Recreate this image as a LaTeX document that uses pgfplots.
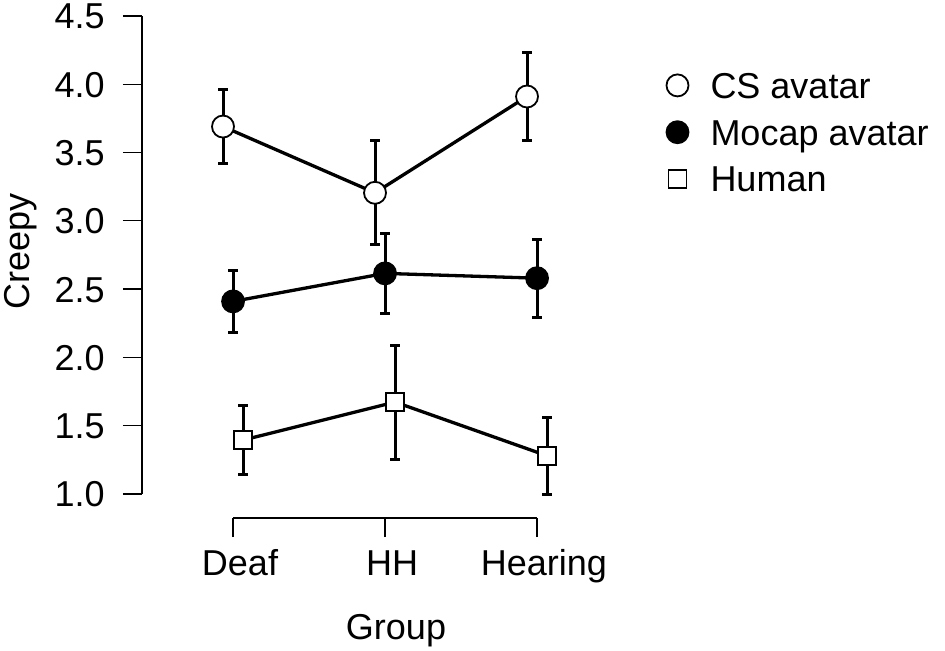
\documentclass[border=0pt]{standalone}
\usepackage{fontspec}
\setmainfont{Liberation Sans}
\usepackage{pgfplots}
\pgfplotsset{compat=1.18}
\usepackage{pgfplotstable}

\pgfplotstableread{
x y
0.934 3.690
1.934 3.205
2.934 3.910
}\cstab
\pgfplotstableread{
x y
1 2.410
2 2.615
3 2.580
}\mocaptab
\pgfplotstableread{
x y
1.066 1.395
2.066 1.673
3.066 1.280
}\humantab

\pgfplotsset{
  errseg/.style={black, line width=1.5pt, mark=-, mark size=2.4pt,
    mark options={solid, line width=1.5pt}, unbounded coords=jump, forget plot},
}

\begin{document}
\begin{tikzpicture}[font=\fontsize{18}{21}\selectfont]
\path[use as bounding box] (0,0) rectangle (472.5pt,325pt);
\begin{axis}[
  at={(71pt,78pt)}, anchor=south west,
  x=76pt, y=68.3pt,
  xmin=0.401, xmax=3.6, ymin=1, ymax=4.5,
  axis x line=none, axis y line=left,
  axis line style={-, line width=0.65pt},
  ytick={1,1.5,2,2.5,3,3.5,4,4.5},
  /pgf/number format/assume math mode=true,
  /pgf/number format/fixed,
  /pgf/number format/fixed zerofill,
  /pgf/number format/precision=1,
  yticklabel style={inner sep=0pt, text height=12.9pt, text depth=0pt, anchor=east, xshift=-9pt},
  tick align=outside, major tick length=9.5pt,
  tick style={line width=0.65pt, black},
  ylabel={Creepy},
  every axis y label/.style={at={([xshift=-62.5pt,yshift=1.75pt]axis description cs:0,0.5)}, rotate=90, anchor=center, inner sep=0pt, text height=12.9pt, text depth=0pt},
  clip=false,
  legend cell align=left,
  legend image code/.code={\draw[#1, only marks] plot coordinates {(0pt,0pt)};},
  legend style={draw=none, fill=none, inner sep=0pt, at={(axis cs:3.849,4.0886)}, anchor=north west,
    nodes={inner sep=0pt, text height=12.9pt, text depth=0pt}, row sep=10.5pt, column sep=11pt},
]
% error bars (mean -/+ error), drawn first so that the markers sit on top
\addplot[errseg] coordinates {(0.934,3.420) (0.934,3.960) (0.934,nan)
  (1.934,2.825) (1.934,3.585) (1.934,nan) (2.934,3.590) (2.934,4.230)};
\addplot[errseg] coordinates {(1,2.185) (1,2.635) (1,nan)
  (2,2.325) (2,2.905) (2,nan) (3,2.295) (3,2.865)};
\addplot[errseg] coordinates {(1.066,1.140) (1.066,1.650) (1.066,nan)
  (2.066,1.256) (2.066,2.090) (2.066,nan) (3.066,1.000) (3.066,1.560)};
% lines and markers
\addplot[black, line width=1.65pt, mark=*, mark size=5.5pt, mark options={fill=white, line width=0.9pt}]
  table[x=x, y=y] {\cstab};
\addplot[black, line width=1.65pt, mark=*, mark size=5.5pt, mark options={fill=black, line width=0.9pt}]
  table[x=x, y=y] {\mocaptab};
\addplot[black, line width=1.65pt, mark=square*, mark size=4.5pt, mark options={fill=white, line width=0.9pt}]
  table[x=x, y=y] {\humantab};
\legend{CS avatar, Mocap avatar, Human}
\end{axis}
\begin{axis}[
  at={(116.5pt,66pt)}, anchor=south west,
  x=76pt, y=10pt,
  xmin=1, xmax=3, ymin=0, ymax=1,
  axis x line=bottom, axis y line=none,
  axis line style={-, line width=0.65pt},
  xtick={1,2,3}, xticklabels={Deaf,HH,Hearing},
  tick align=outside, major tick length=9.5pt,
  tick style={line width=0.65pt, black},
  xticklabel style={inner sep=0pt, text height=12.9pt, text depth=3.6pt, anchor=north, xshift=3.5pt, yshift=-6pt},
  xlabel={Group},
  every axis x label/.style={at={([xshift=5.5pt,yshift=-47.5pt]axis description cs:0.5,0)}, anchor=north, inner sep=0pt, text height=12.9pt, text depth=3.6pt},
]
\addplot[draw=none, forget plot] coordinates {(1,0)};
\end{axis}
\end{tikzpicture}
\end{document}
